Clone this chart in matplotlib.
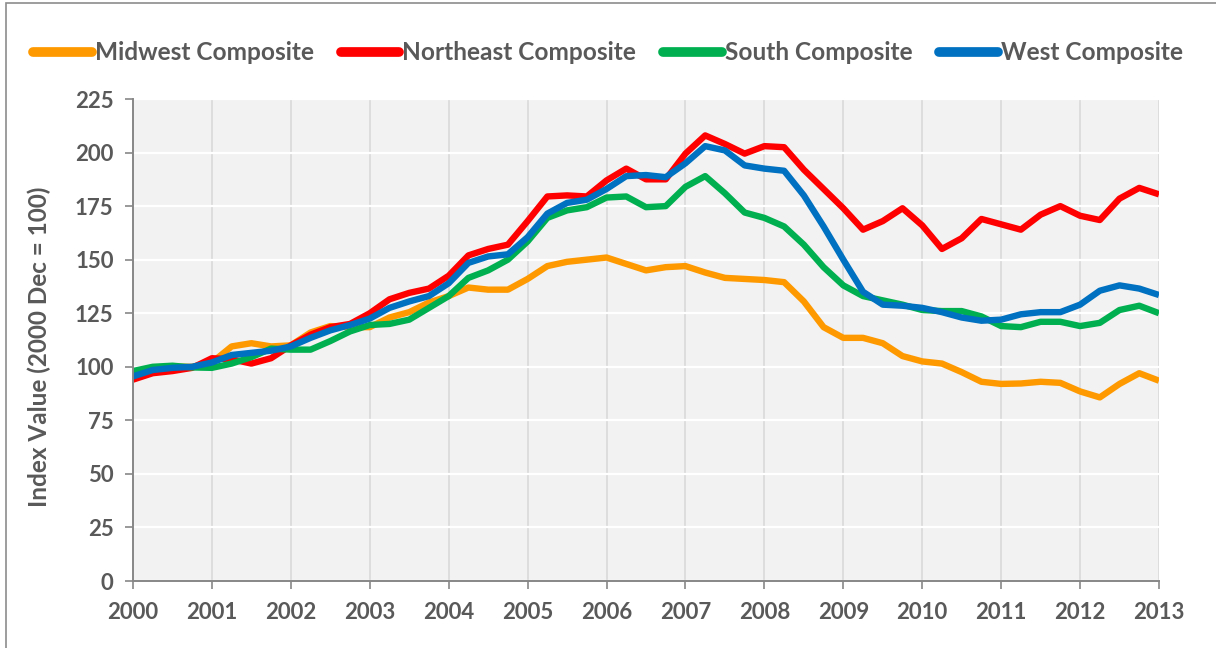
import matplotlib
import matplotlib.pyplot as plt
import numpy as np
from matplotlib.patches import Rectangle

matplotlib.use("Agg")

# 분기별 지수 (2000 Q1 ~ 2013 Q1)
quarters = np.arange(2000, 2013.01, 0.25)

midwest = [96.5, 99, 100, 100,
           102, 109.5, 111, 109.5,
           110, 116, 119, 118.5,
           118.5, 123, 125.5, 130,
           133, 137, 136, 136,
           141, 147, 149, 150,
           151, 148, 145, 146.5,
           147, 144, 141.5, 141,
           140.5, 139.5, 130.5, 118.5,
           113.5, 113.5, 111, 105,
           102.5, 101.5, 97.5, 93,
           92, 92.2, 93, 92.5,
           88.5, 85.7, 92, 97,
           93.5]
northeast = [94, 97, 98, 99.5,
             104, 103.5, 101.5, 104,
             110, 115, 118.5, 120,
             125, 131.5, 134.5, 136.5,
             142.5, 152, 155, 157,
             168, 179.5, 180, 179.5,
             187, 192.5, 187.5, 187.5,
             199.5, 208, 204, 199.5,
             203, 202.5, 192, 183,
             174, 164, 168, 174,
             166, 155, 160, 169,
             166.5, 164, 171, 175,
             170.5, 168.5, 178.5, 183.5,
             180.5]
south = [98, 100, 100.5, 99.7,
         99.5, 101.5, 104.5, 108.5,
         108, 108, 112, 116.5,
         119.5, 120, 122, 127.5,
         133, 141.5, 145, 150,
         158.5, 169.5, 173, 174.5,
         179, 179.5, 174.5, 175,
         184, 189, 181, 172,
         169.5, 165.5, 157, 146.5,
         138, 133, 131, 129,
         126.5, 126, 126, 123.5,
         119, 118.5, 121, 121,
         119, 120.5, 126.5, 128.5,
         125]
west = [95.5, 98.5, 99.5, 100,
        102, 105.5, 106.5, 107.5,
        109.5, 113.5, 117, 119.5,
        122.5, 127.5, 130.5, 133,
        139, 148.5, 151.5, 152.5,
        160.5, 171.5, 176.5, 178,
        183, 189, 189.5, 188.5,
        195, 203, 201, 194,
        192.5, 191.5, 180, 165.5,
        150, 135, 129, 128.5,
        127.5, 125.5, 123, 121.5,
        122, 124.5, 125.5, 125.5,
        129, 135.5, 138, 136.5,
        133.5]

series = [
    ("Midwest Composite", midwest, "#FF9900"),
    ("Northeast Composite", northeast, "#FF0000"),
    ("South Composite", south, "#00B050"),
    ("West Composite", west, "#0070C0"),
]

year_ticks = list(range(2000, 2014))
y_ticks = list(range(0, 226, 25))

plt.rcParams["font.family"] = ["Lato", "DejaVu Sans"]
plt.rcParams["font.weight"] = "bold"
text_color = "#595959"

fig = plt.figure(figsize=(12.16, 6.48), dpi=100)
fig.patch.set_facecolor("white")

# 바깥 테두리
fig.patches.append(Rectangle((6 / 1216, -0.1), 1.2, 1.1 - 3 / 648,
                             transform=fig.transFigure, fill=False,
                             edgecolor="#8C8C8C", linewidth=1.2))

ax = fig.add_axes([133 / 1216, 67 / 648, 1026 / 1216, 482 / 648])
ax.set_facecolor("#F2F2F2")

for name, values, color in series:
    ax.plot(quarters, values, color=color, linewidth=4.6, label=name,
            solid_joinstyle="round", solid_capstyle="butt")

ax.set_xlim(2000, 2013)
ax.set_ylim(0, 225)
ax.set_xticks(year_ticks)
ax.set_yticks(y_ticks)
ax.set_xticklabels([str(y) for y in year_ticks])

ax.xaxis.grid(True, color="#D9D9D9", linewidth=1.2)
ax.yaxis.grid(True, color="white", linewidth=1.6)
ax.set_axisbelow(True)

for side in ["top", "right"]:
    ax.spines[side].set_visible(False)
for side in ["left", "bottom"]:
    ax.spines[side].set_color("#878787")
    ax.spines[side].set_linewidth(1.4)

ax.tick_params(axis="both", direction="out", length=6, width=1.2,
               color="#878787", labelsize=16, labelcolor=text_color)
ax.tick_params(axis="x", pad=9)
ax.tick_params(axis="y", pad=8)

ax.set_ylabel("Index Value (2000 Dec = 100)", fontsize=17.5,
              color=text_color, fontweight="bold")
ax.yaxis.set_label_coords(-82 / 1026, 0.485)

leg = fig.legend(loc="center", bbox_to_anchor=(0.5, 1 - 53 / 648), ncol=4,
                 frameon=False, fontsize=17.6, handlelength=2.4,
                 handletextpad=0.12, columnspacing=1.1)
for text in leg.get_texts():
    text.set_color(text_color)
for line in leg.get_lines():
    line.set_linewidth(7)
    line.set_solid_capstyle("round")

fig.savefig("out.png", dpi=100, facecolor="white")
